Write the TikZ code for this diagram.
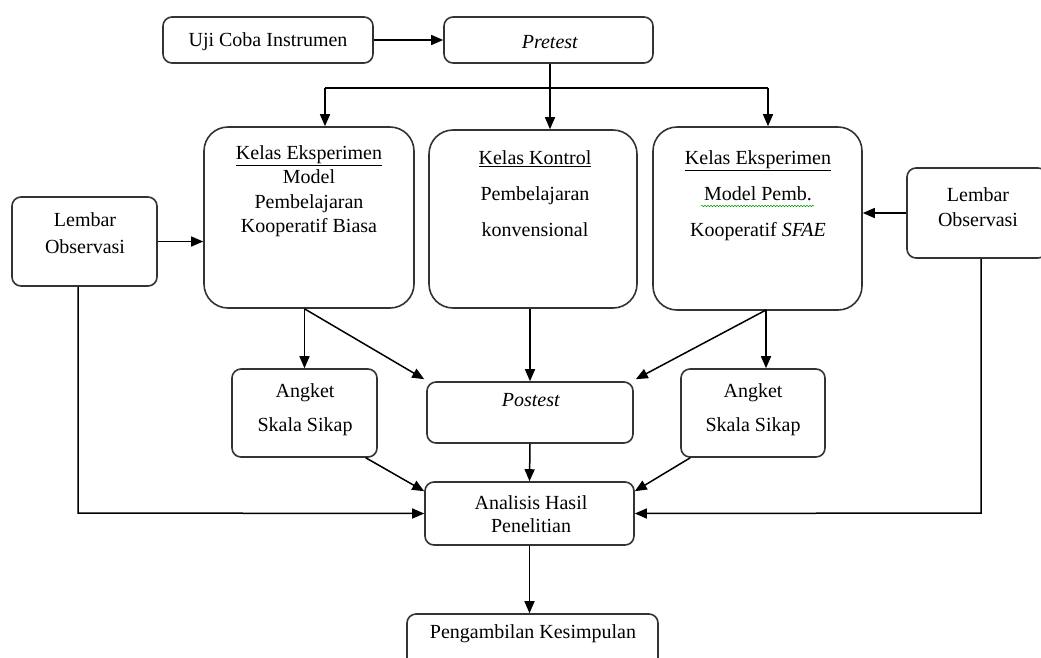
\documentclass[tikz,border=0pt]{standalone}
\usepackage{fontspec}
\setmainfont{Liberation Serif}
\usetikzlibrary{arrows.meta,calc,decorations.pathmorphing}
\begin{document}
\begin{tikzpicture}[x=1pt,y=-1pt,
  box/.style={draw=black!80, line width=1.6pt, rounded corners=9pt, inner sep=0pt, fill=white},
  bigbox/.style={box, rounded corners=24pt},
  txt/.style={font=\fontsize{20}{24}\selectfont, align=center, inner sep=0pt},
  txtwide/.style={font=\fontsize{20}{36}\selectfont, align=center, inner sep=0pt},
  arr/.style={-{Triangle[length=12pt,width=10pt]}, line width=1.5pt, black},
  ln/.style={line width=1.5pt, black}]
\useasboundingbox (0,0) rectangle (1041,657);
\clip (0,0) rectangle (1041,657);
\fill[white] (0,0) rectangle (1041,657);

% boxes
\node[box, minimum width=210, minimum height=46] (uji) at (268,40) {};
\node[box, minimum width=209, minimum height=46] (pre) at (548.5,40) {};
\node[bigbox, minimum width=210, minimum height=181] (k1) at (309,217.5) {};
\node[bigbox, minimum width=208, minimum height=178] (k2) at (533,219) {};
\node[bigbox, minimum width=209, minimum height=183] (k3) at (757.5,218.5) {};
\node[box, minimum width=145, minimum height=89] (lo1) at (84.5,241.5) {};
\node[box, minimum width=140, minimum height=90] (lo2) at (977,213) {};
\node[box, minimum width=145, minimum height=88] (a1) at (304.5,413) {};
\node[box, minimum width=206, minimum height=61] (post) at (530,412.5) {};
\node[box, minimum width=144, minimum height=88] (a2) at (753,413) {};
\node[box, minimum width=209, minimum height=63] (an) at (529.5,513.5) {};
\node[box, minimum width=251, minimum height=66] (pk) at (532.5,647) {};

% texts
\node[txt] (tuji) at (268,42) {Uji Coba Instrumen};
\node[txt] (tpre) at (550,42) {\textit{Pretest}};
\node[txt, font=\fontsize{20}{24.4}\selectfont] (tk1) at (309,191) {\underline{Kelas Eksperimen}\\Model\\Pembelajaran\\Kooperatif Biasa};
\node[txtwide] (tk2) at (535,194) {\underline{Kelas Kontrol}\\Pembelajaran\\konvensional};
\node[txtwide] (tk3) at (758,196) {\underline{Kelas Eksperimen}\\Model Pemb.\\Kooperatif \textit{SFAE}};
\node[txt, font=\fontsize{20}{27}\selectfont] (tlo1) at (85,233) {Lembar\\Observasi};
\node[txt, font=\fontsize{20}{25}\selectfont] (tlo2) at (978,207) {Lembar\\Observasi};
\node[txt, font=\fontsize{20}{34}\selectfont] (ta1) at (305,410) {Angket\\Skala Sikap};
\node[txt, font=\fontsize{20}{34}\selectfont] (ta2) at (753,410) {Angket\\Skala Sikap};
\node[txt] (tpost) at (531,400) {\textit{Postest}};
\node[txt, font=\fontsize{20}{23}\selectfont] (tan) at (531,514) {Analisis Hasil\\Penelitian};
\node[txt] (tpk) at (533,634) {Pengambilan Kesimpulan};

% spell-check wave under "Model Pemb."
\draw[decorate, decoration={snake, amplitude=0.8pt, segment length=3pt}, green!60!black, line width=0.5pt] (701,206) -- (814,206);

% coordinates
\coordinate (hl) at (325,88);
\coordinate (hm) at (550,88);
\coordinate (hr) at (768,88);
\coordinate (k3b) at (766,310);
\coordinate (c1) at (78,513);
\coordinate (c2) at (981,513);

% connectors
\draw[arr] (uji.east) -- (pre.west);
\draw[ln] (hm |- pre.south) -- (hm);
\draw[ln] (hl) -- (hr);
\draw[arr] (hl) -- (hl |- k1.north);
\draw[arr] (hm) -- (hm |- k2.north);
\draw[arr] (hr) -- (hr |- k3.north);
\draw[arr] (lo1.east) -- (k1.west |- lo1.east);
\draw[arr] (lo2.west) -- (k3.east |- lo2.west);
\draw[arr] (a1.north |- k1.south) -- (a1.north);
\draw[arr] (a1.north |- k1.south) -- ($(post.north west)+(-2,-2)$);
\draw[arr] (post.north |- k2.south) -- (post.north);
\draw[arr] (k3b) -- (k3b |- a2.north);
\draw[arr] (k3b) -- ($(post.north east)+(2,-2)$);
\draw[arr] ($(a1.south east)+(-12,0)$) -- ($(an.north west)+(0,10)$);
\draw[arr] ($(a2.south west)+(10,0)$) -- ($(an.north east)+(0,10)$);
\draw[arr] (post.south) -- (an.north);
\draw[arr] (c1 |- lo1.south) -- (c1) -- (an.west);
\draw[arr] (c2 |- lo2.south) -- (c2) -- (an.east);
\draw[arr] (an.south) -- (an.south |- pk.north);
\end{tikzpicture}
\end{document}
